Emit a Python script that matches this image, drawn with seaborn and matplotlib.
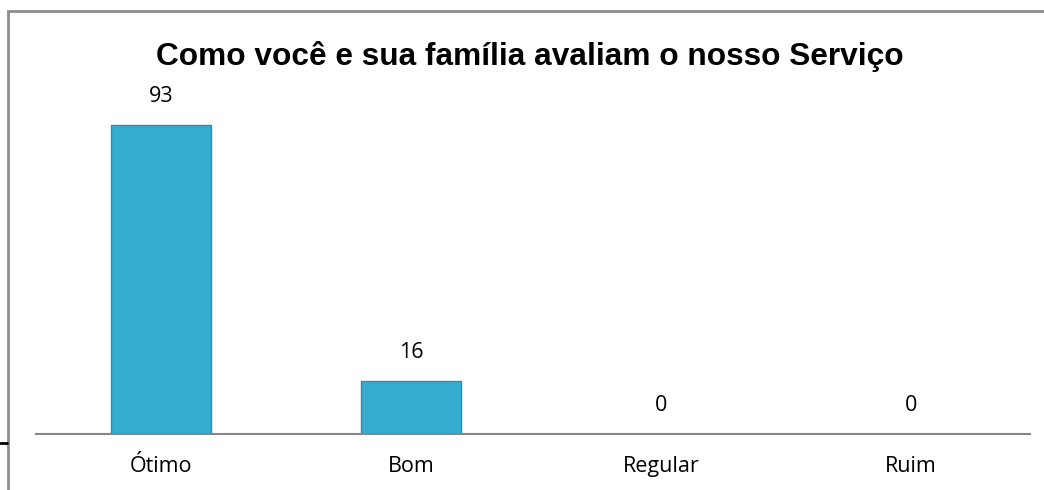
import matplotlib
matplotlib.use("Agg")
import matplotlib.pyplot as plt
import seaborn as sns
import pandas as pd
from matplotlib.patches import Rectangle
from matplotlib.lines import Line2D

categories = ["Ótimo", "Bom", "Regular", "Ruim"]
values = [93, 16, 0, 0]
title = "Como você e sua família avaliam o nosso Serviço"

sns.set_theme(style="white")
plt.rcParams['font.family'] = ['Lato', 'DejaVu Sans']
plt.rcParams['text.color'] = 'black'

W, H = 1044, 490
fig = plt.figure(figsize=(W / 100, H / 100), dpi=100)
fig.patch.set_facecolor("white")

# axes: x 36..1030 px, y baseline 434, top 102
ax = fig.add_axes([36 / W, (H - 434) / H, 994 / W, (434 - 102) / H])
df = pd.DataFrame({"cat": categories, "val": values})
sns.barplot(data=df, x="cat", y="val", color="#35ADD0", width=0.4,
            saturation=1, ax=ax, edgecolor="#2A8FAE", linewidth=1)
ax.set_xlim(-0.5, 3.476)
ax.set_ylim(0, 100)
ax.set_xlabel("")
ax.set_ylabel("")
ax.set_yticks([])
for s in ["top", "right", "left"]:
    ax.spines[s].set_visible(False)
ax.spines["bottom"].set_color("#868686")
ax.spines["bottom"].set_linewidth(1.5)
ax.tick_params(axis="x", length=0, pad=16, labelsize=15.5, labelcolor="black")
for lbl in ax.get_xticklabels():
    lbl.set_fontfamily(["Open Sans", "DejaVu Sans"])
for i, v in enumerate(values):
    ax.annotate(str(v), (i, v), xytext=(0, 13), textcoords="offset points",
                ha="center", va="bottom", fontsize=15.5, color="black",
                family=["Open Sans", "DejaVu Sans"])

fig.text(530 / W, 1 - 56 / H, title, ha="center", va="center", fontsize=22.8,
         fontweight="bold", color="black", family=["Liberation Sans", "DejaVu Sans"])

# chart frame
fig.patches.append(Rectangle((8 / W, -0.1), 1.2, 1 - 11 / H + 0.1, transform=fig.transFigure,
                             fill=False, edgecolor="#8C8C8C", linewidth=2))
fig.lines.append(Line2D([0, 7 / W], [1 - 443 / H, 1 - 443 / H], transform=fig.transFigure,
                        color="black", linewidth=2))

fig.savefig("out.png", dpi=100)
